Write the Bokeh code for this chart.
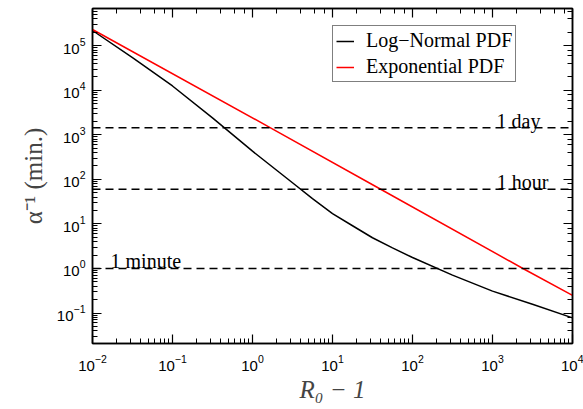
from bokeh.plotting import figure
from bokeh.models import Range1d, LogAxis, Span, Label
from bokeh.embed import file_html
from bokeh.resources import INLINE

# ---- data ----
x_lognormal = [0.01, 0.0316, 0.1, 0.316, 1.0, 3.16, 5.62, 10.0, 17.8, 31.6, 56.2, 100.0, 316.0, 1000.0, 3162.0, 10000.0]
y_lognormal = [2.2e5, 5.4e4, 1.25e4, 2.4e3, 430.0, 84.0, 37.0, 17.0, 9.1, 4.9, 2.9, 1.76, 0.71, 0.31, 0.158, 0.078]

x_exponential = [0.01, 1.68, 40.0, 2400.0, 10000.0]
y_exponential = [2.32e5, 1440.0, 60.0, 1.0, 0.248]

ref_values = [1440.0, 60.0, 1.0]
ref_labels = ["1 day", "1 hour", "1 minute"]

SERIF = "Liberation Serif"
SANS = "Liberation Sans"

p = figure(width=583, height=409,
           x_axis_type="log", y_axis_type="log",
           x_range=Range1d(0.01, 1e4), y_range=Range1d(0.0207, 6.86e5),
           output_backend="svg", toolbar_location=None,
           min_border_left=92, min_border_right=11,
           min_border_top=8, min_border_bottom=66,
           background_fill_color="white", border_fill_color="white")
p.xgrid.visible = False
p.ygrid.visible = False
p.outline_line_color = "black"
p.outline_line_width = 1.5

bottom = p.below[0]
left = p.left[0]
top = LogAxis()
right = LogAxis()
p.add_layout(top, "above")
p.add_layout(right, "right")

for ax in [bottom, left, top, right]:
    ax.axis_line_color = "black"
    ax.axis_line_width = 1.5
    ax.major_tick_in = 9
    ax.major_tick_out = 0
    ax.minor_tick_in = 5
    ax.minor_tick_out = 0
    ax.major_tick_line_width = 1.2
    ax.minor_tick_line_width = 1.0
    ax.major_tick_line_color = "black"
    ax.minor_tick_line_color = "black"
    ax.major_label_text_font = SANS
    ax.major_label_text_font_size = "15px"
    ax.major_label_text_color = "black"

for ax in [top, right]:
    ax.major_label_text_font_size = "1px"
    ax.major_label_text_alpha = 0.0
    ax.major_label_standoff = 0

bottom.major_label_standoff = 11
left.major_label_standoff = 7

bottom.axis_label = "R\u2080 \u2212 1"
bottom.axis_label_text_font = SERIF
bottom.axis_label_text_font_style = "italic"
bottom.axis_label_text_font_size = "25px"
bottom.axis_label_standoff = 2

left.axis_label = "\u03b1\u207b\u00b9 (min.)"
left.axis_label_text_font = SERIF
left.axis_label_text_font_style = "normal"
left.axis_label_text_font_size = "25px"
left.axis_label_standoff = 7

for v, t, xs, align in zip(ref_values, ref_labels, [3981.0, 5012.0, 0.0168], ["right", "right", "left"]):
    p.add_layout(Span(location=v, dimension="width", line_color="black",
                      line_width=1.4, line_dash="8 5"))
    p.add_layout(Label(x=xs, y=v, text=t, text_font=SERIF, text_font_size="20px",
                       text_align=align, text_baseline="alphabetic", y_offset=7,
                       text_color="black"))

p.line(x_lognormal, y_lognormal, line_color="black", line_width=1.5,
       legend_label="Log\u2212Normal PDF")
p.line(x_exponential, y_exponential, line_color="#ff0000", line_width=1.5,
       legend_label="Exponential PDF")

lg = p.legend[0]
lg.location = (240, 261)
lg.margin = 0
lg.padding = 3
lg.spacing = 3
lg.label_height = 20
lg.glyph_height = 20
lg.glyph_width = 18
lg.label_standoff = 12
lg.label_text_font = SERIF
lg.label_text_font_size = "20px"
lg.label_text_color = "black"
lg.border_line_color = "black"
lg.border_line_width = 1
lg.background_fill_color = "white"
lg.background_fill_alpha = 1.0

open("out.html", "w").write(file_html(p, INLINE))
